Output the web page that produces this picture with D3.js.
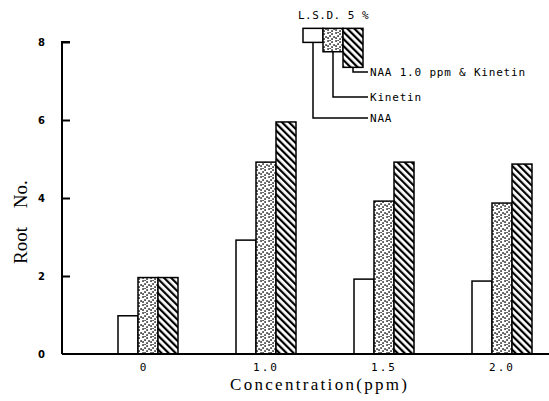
<!DOCTYPE html>
<html>
<head>
<meta charset="utf-8">
<script src="https://cdn.jsdelivr.net/npm/d3@7"></script>
<style>
  body { margin: 0; background: #fff; }
  svg { display: block; }
</style>
</head>
<body>
<div id="chart"></div>
<script>
// values
const categories = ["0", "1.0", "1.5", "2.0"];
const naa = [0.98, 2.92, 1.92, 1.87];
const kinetin = [1.96, 4.92, 3.92, 3.87];
const naaKinetin = [1.96, 5.95, 4.92, 4.87];
const seriesNames = ["NAA", "Kinetin", "NAA 1.0 ppm & Kinetin"];
const lsdValues = [0.36, 0.6, 1.0];
const yTicks = [0, 2, 4, 6, 8];

const width = 549, height = 401;
const margin = { top: 42, bottom: 47, left: 62 };

const svg = d3.select("#chart").append("svg")
  .attr("width", width).attr("height", height);

// fill patterns
const defs = svg.append("defs");
const dots = defs.append("pattern")
  .attr("id", "dots").attr("patternUnits", "userSpaceOnUse")
  .attr("width", 8).attr("height", 8);
dots.append("rect").attr("width", 8).attr("height", 8).attr("fill", "#fff");
[[1, 1], [5, 2], [3, 4], [7, 5], [1, 6], [5, 7], [3, 0]].forEach(([cx, cy]) =>
  dots.append("rect").attr("x", cx - 0.7).attr("y", cy - 0.7)
    .attr("width", 1.5).attr("height", 1.5).attr("fill", "#000"));

const hatch = defs.append("pattern")
  .attr("id", "hatch").attr("patternUnits", "userSpaceOnUse")
  .attr("width", 5).attr("height", 5)
  .attr("patternTransform", "rotate(-45)");
hatch.append("rect").attr("width", 5).attr("height", 5).attr("fill", "#fff");
hatch.append("rect").attr("x", 0).attr("y", 0).attr("width", 2.2).attr("height", 5).attr("fill", "#000");

const fills = ["#fff", "url(#dots)", "url(#hatch)"];

const y = d3.scaleLinear().domain([0, 8]).range([height - margin.bottom, margin.top]);
const x0 = d3.scaleBand().domain(categories).range([89, 561]);
const x1 = d3.scaleBand().domain([0, 1, 2]).range([0, 60]);

const table = categories.map((c, i) => ({
  cat: c, values: [naa[i], kinetin[i], naaKinetin[i]]
}));

// bars
const groups = svg.append("g").selectAll("g")
  .data(table).join("g")
  .attr("transform", d => `translate(${x0(d.cat) + x0.bandwidth() / 2 - 30},0)`);

groups.selectAll("rect")
  .data(d => d.values.map((v, k) => ({ k, v })))
  .join("rect")
  .attr("x", d => x1(d.k))
  .attr("width", x1.bandwidth())
  .attr("y", d => y(d.v))
  .attr("height", d => y(0) - y(d.v))
  .attr("fill", d => fills[d.k])
  .attr("stroke", "#000")
  .attr("stroke-width", 1.5);

// axes
const yAxis = svg.append("g")
  .attr("transform", `translate(${margin.left},0)`)
  .call(d3.axisRight(y).tickValues(yTicks.filter(t => t > 0)).tickSize(8).tickFormat(""))
  .call(g => g.select(".domain").attr("d", `M8,${y(8)}H0V${y(0)}`))
  .call(g => g.selectAll("line, path").attr("stroke", "#000").attr("stroke-width", 2));

svg.append("g").selectAll("text")
  .data(yTicks).join("text")
  .attr("x", 41.5).attr("y", d => y(d) + 4)
  .attr("text-anchor", "middle")
  .attr("font-family", "DejaVu Sans, sans-serif")
  .attr("font-weight", "bold")
  .attr("font-size", 10)
  .text(d => d);

svg.append("line")
  .attr("x1", margin.left).attr("x2", width)
  .attr("y1", y(0)).attr("y2", y(0))
  .attr("stroke", "#000").attr("stroke-width", 2);

svg.append("g").selectAll("text")
  .data(categories).join("text")
  .attr("x", d => x0(d) + x0.bandwidth() / 2 - (d === "0" ? 4 : 0))
  .attr("y", 371)
  .attr("text-anchor", "middle")
  .attr("font-family", "DejaVu Sans Mono, monospace")
  .attr("font-size", 11)
  .attr("letter-spacing", 2)
  .text(d => d);

svg.append("text")
  .attr("x", 230).attr("y", 390)
  .attr("textLength", 177).attr("lengthAdjust", "spacing")
  .attr("font-family", "Liberation Serif, serif")
  .attr("font-size", 17)
  .text("Concentration(ppm)");

svg.append("text")
  .attr("transform", "translate(27,264) rotate(-90)")
  .attr("font-family", "Liberation Serif, serif")
  .attr("font-size", 19)
  .attr("word-spacing", 14)
  .text("Root No.");

// L.S.D. 5% key
const lsdTop = 8.35;
const lsd = svg.append("g").attr("transform", `translate(303,0)`);
lsd.selectAll("rect")
  .data(lsdValues).join("rect")
  .attr("x", (d, i) => x1(i))
  .attr("width", x1.bandwidth())
  .attr("y", y(lsdTop))
  .attr("height", d => y(lsdTop - d) - y(lsdTop))
  .attr("fill", (d, i) => fills[i])
  .attr("stroke", "#000")
  .attr("stroke-width", 1.5);

const labelY = [118, 97, 72];
lsd.selectAll("path.leader")
  .data(lsdValues).join("path")
  .attr("class", "leader")
  .attr("fill", "none").attr("stroke", "#000").attr("stroke-width", 1.5)
  .attr("d", (d, i) => `M${x1(i) + x1.bandwidth() / 2},${y(lsdTop - d)}V${labelY[i]}H65`);

lsd.selectAll("text.key")
  .data(seriesNames).join("text")
  .attr("class", "key")
  .attr("x", 67)
  .attr("y", (d, i) => labelY[i] + 4)
  .attr("font-family", "DejaVu Sans Mono, monospace")
  .attr("font-size", 11)
  .attr("letter-spacing", 0.8)
  .text(d => d);

svg.append("text")
  .attr("x", 298).attr("y", 19)
  .attr("font-family", "DejaVu Sans Mono, monospace")
  .attr("font-size", 11)
  .attr("letter-spacing", 0.5)
  .text("L.S.D. 5 %");
</script>
</body>
</html>
